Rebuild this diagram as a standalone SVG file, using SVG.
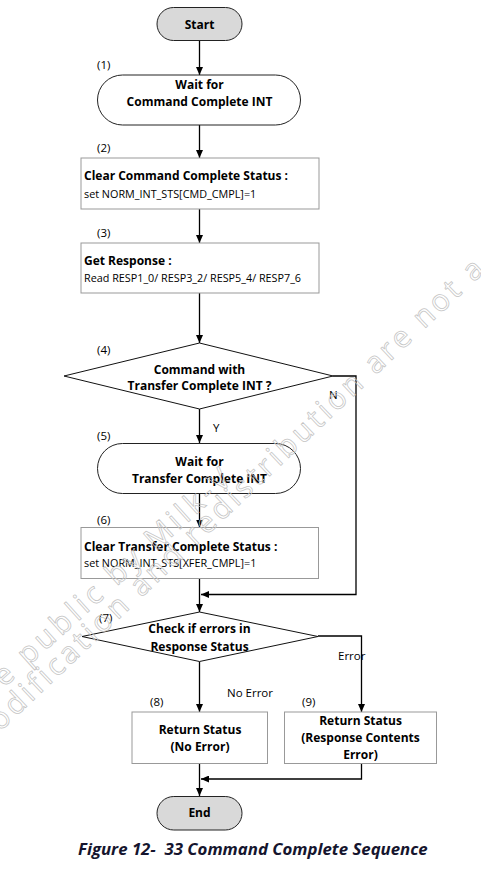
<svg xmlns="http://www.w3.org/2000/svg" width="481" height="883" viewBox="0 0 481 883">
<defs>
<marker id="ah" viewBox="0 0 8 7" refX="8" refY="3.5" markerWidth="8" markerHeight="7" markerUnits="userSpaceOnUse" orient="auto">
<path d="M0,0 L8,3.5 L0,7 z" fill="#000"/>
</marker>
<style>
text{font-family:"Open Sans","Liberation Sans",sans-serif;fill:#000}
.b{font-weight:bold;font-size:12px}
.c{text-anchor:middle}
.s{font-size:10.8px}
.l{font-size:11.5px}
.term{fill:#d9d9d9;stroke:#222;stroke-width:1}
.pill{fill:#fff;stroke:#222;stroke-width:1}
.box{fill:#fff;stroke:#999;stroke-width:1}
.dia{fill:#fff;stroke:#111;stroke-width:1}
.con{fill:none;stroke:#000;stroke-width:1.3}
.wm{fill:none;stroke:#c4c4c4;stroke-width:0.75;font-size:30px}
.cap{font-size:16.8px;font-weight:bold;font-style:italic;fill:#15152e}
</style>
</defs>
<rect width="481" height="883" fill="#fff"/>
<g id="connectors">
<path class="con" d="M199.5,41 V75" marker-end="url(#ah)"/>
<path class="con" d="M199.5,125 V158" marker-end="url(#ah)"/>
<path class="con" d="M199.5,209 V243" marker-end="url(#ah)"/>
<path class="con" d="M199.5,293 V343" marker-end="url(#ah)"/>
<path class="con" d="M199.5,409 V443" marker-end="url(#ah)"/>
<path class="con" d="M199.5,494 V527.5" marker-end="url(#ah)"/>
<path class="con" d="M199.5,578.5 V612" marker-end="url(#ah)"/>
<path class="con" d="M333,376 H356 V594.5 H201" marker-end="url(#ah)"/>
<path class="con" d="M199.5,661.5 V712" marker-end="url(#ah)"/>
<path class="con" d="M318,636 H361.5 V712" marker-end="url(#ah)"/>
<path class="con" d="M199.5,763.5 V796" marker-end="url(#ah)"/>
<path class="con" d="M361.5,763.5 V779 H201" marker-end="url(#ah)"/>
</g>
<g id="n-start">
<rect class="term" x="157" y="7.5" width="85" height="33" rx="16.5"/>
<text class="b c" x="199.5" y="29">Start</text>
</g>
<g id="n1">
<rect class="pill" x="97.5" y="75" width="203" height="50" rx="25"/>
<text class="l" x="97" y="69">(1)</text>
<text class="b c" x="199.5" y="89">Wait for</text>
<text class="b c" x="199.5" y="106">Command Complete INT</text>
</g>
<g id="n2">
<rect class="box" x="81" y="158" width="238" height="51"/>
<text class="l" x="97" y="152">(2)</text>
<text class="b" x="84" y="180">Clear Command Complete Status :</text>
<text class="s" x="84" y="197.5">set NORM_INT_STS[CMD_CMPL]=1</text>
</g>
<g id="n3">
<rect class="box" x="81" y="243" width="238" height="50"/>
<text class="l" x="97" y="236.5">(3)</text>
<text class="b" x="84" y="265">Get Response :</text>
<text class="s" x="84" y="281.5">Read RESP1_0/ RESP3_2/ RESP5_4/ RESP7_6</text>
</g>
<g id="n4">
<polygon class="dia" points="199.5,343 333,376 199.5,409 64,376"/>
<text class="l" x="97" y="353.5">(4)</text>
<text class="b c" x="199.5" y="374">Command with</text>
<text class="b c" x="199.5" y="390">Transfer Complete INT ?</text>
<text class="l" x="329" y="398.5">N</text>
<text class="l" x="213" y="432">Y</text>
</g>
<g id="n5">
<rect class="pill" x="97.5" y="443.5" width="203" height="50" rx="25"/>
<text class="l" x="97" y="440">(5)</text>
<text class="b c" x="199.5" y="466">Wait for</text>
<text class="b c" x="199.5" y="482.5">Transfer Complete INT</text>
</g>
<g id="n6">
<rect class="box" x="81" y="527.5" width="237.5" height="51"/>
<text class="l" x="97" y="524">(6)</text>
<text class="b" x="84" y="550.5">Clear Transfer Complete Status :</text>
<text class="s" x="84" y="566.5">set NORM_INT_STS[XFER_CMPL]=1</text>
</g>
<g id="n7">
<polygon class="dia" points="199.5,612 318,636.5 199.5,661.5 82,636.5"/>
<text class="l" x="99" y="622">(7)</text>
<text class="b c" x="199.5" y="633">Check if errors in</text>
<text class="b c" x="199.5" y="650.5">Response Status</text>
<text class="l" x="338" y="660">Error</text>
<text class="l" x="227" y="696.5">No Error</text>
</g>
<g id="n8">
<rect class="box" x="132" y="712" width="135.5" height="51.5"/>
<text class="l" x="150" y="706">(8)</text>
<text class="b c" x="200" y="734">Return Status</text>
<text class="b c" x="200" y="750.5">(No Error)</text>
</g>
<g id="n9">
<rect class="box" x="284.5" y="712" width="152" height="51.5"/>
<text class="l" x="302" y="706">(9)</text>
<text class="b c" x="360.5" y="725">Return Status</text>
<text class="b c" x="360.5" y="742">(Response Contents</text>
<text class="b c" x="360.5" y="759">Error)</text>
</g>
<g id="n-end">
<rect class="term" x="157" y="796.5" width="85" height="33.5" rx="16.75"/>
<text class="b c" x="199.5" y="817">End</text>
</g>
<text class="cap" x="78" y="855" xml:space="preserve">Figure 12-  33 Command Complete Sequence</text>
<g id="watermark">
<text class="wm" x="4" y="688" letter-spacing="3.8" transform="rotate(-42 4 688)">e public by Milk-V</text>
<text class="wm" x="0" y="732" letter-spacing="3.3" transform="rotate(-43.5 0 732)">odification and redistribution are not a</text>
</g>
</svg>
